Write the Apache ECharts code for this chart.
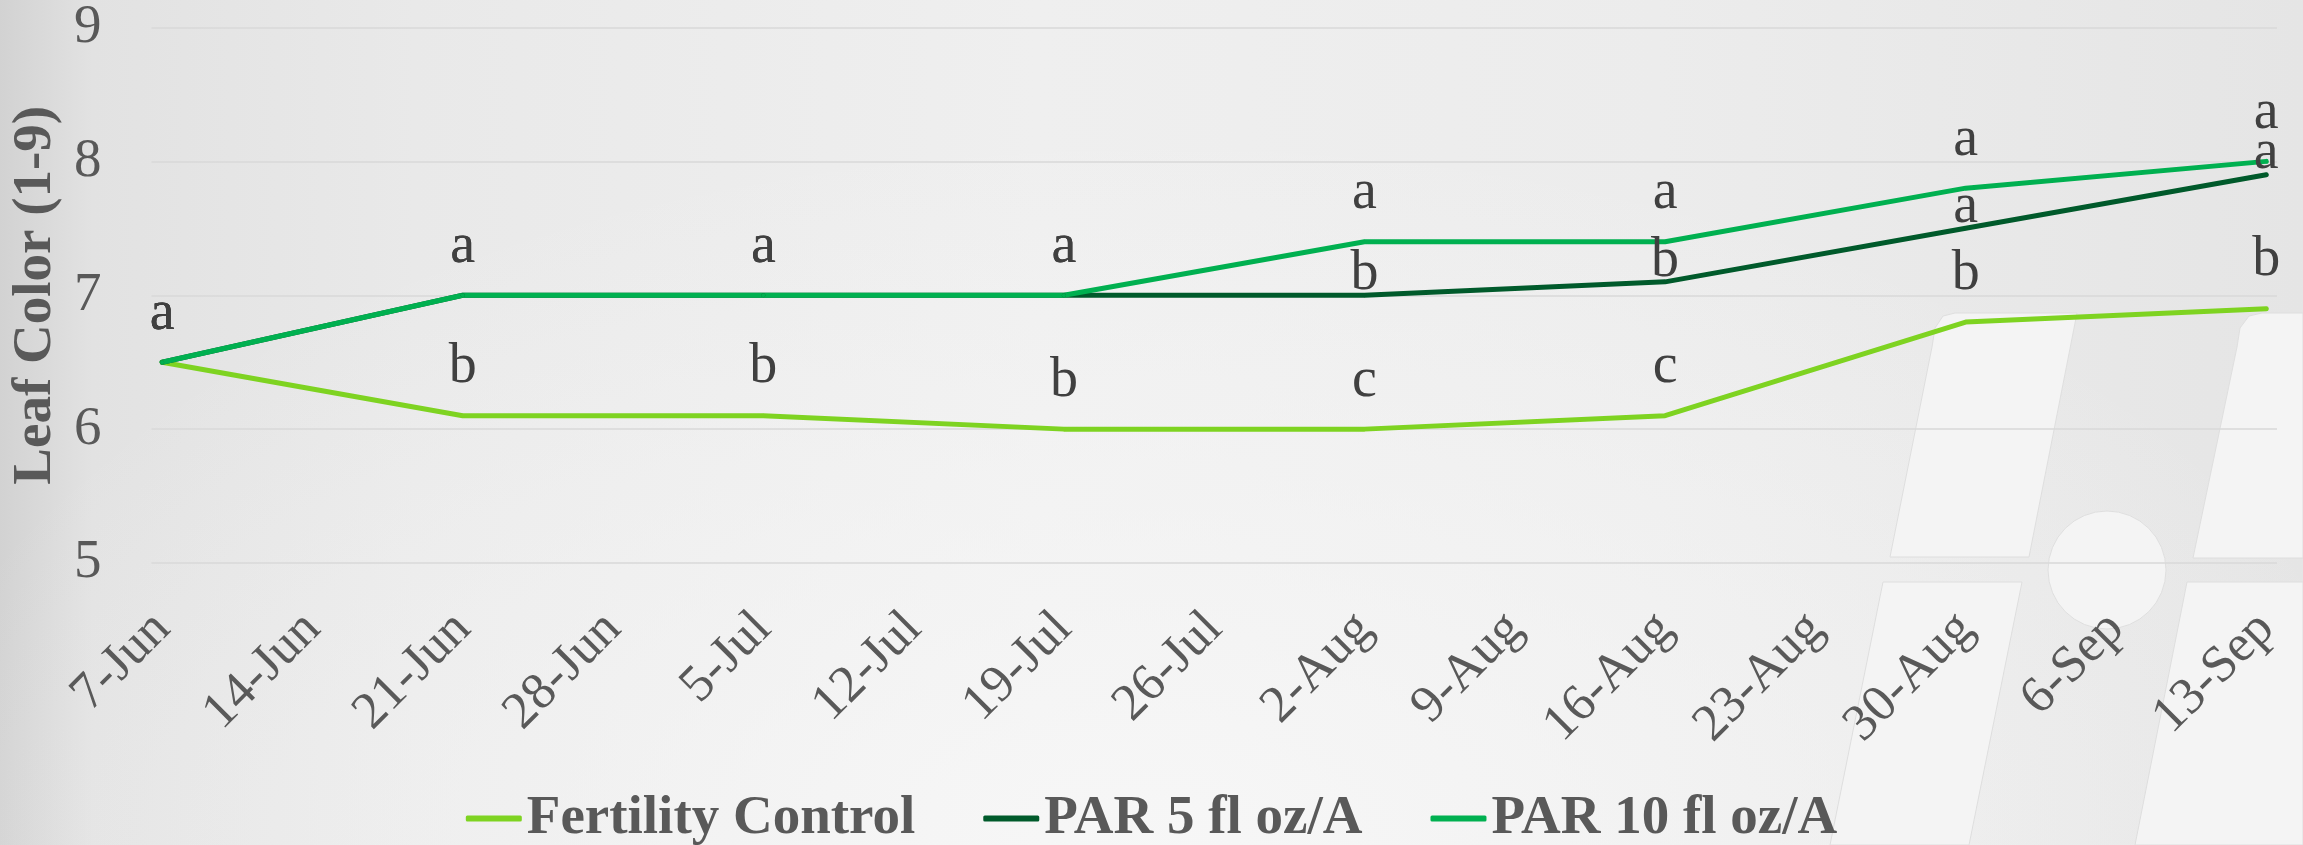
<!DOCTYPE html>
<html>
<head>
<meta charset="utf-8">
<script src="https://cdn.jsdelivr.net/npm/echarts@6/dist/echarts.min.js"></script>
<style>
  html, body { margin: 0; padding: 0; }
  #chart {
    width: 2303px; height: 845px;
    background:
      radial-gradient(ellipse 55% 85% at 50% 100%, rgba(247,247,247,0.95), rgba(247,247,247,0) 100%),
      linear-gradient(90deg, #d2d2d2 0%, #e2e2e2 4%, #e9e9e9 18%, #efefef 45%, #ececec 72%, #e5e5e5 100%);
  }
</style>
</head>
<body>
<div id="chart"></div>
<script>
// sampling dates and leaf colour ratings (1-9)
var sampleDates = ['2021-06-07', '2021-06-21', '2021-07-05', '2021-07-19', '2021-08-02', '2021-08-16', '2021-08-30', '2021-09-13'];
var fertility = [6.5, 6.1, 6.1, 6.0, 6.0, 6.1, 6.8, 6.9];
var par5 = [6.5, 7.0, 7.0, 7.0, 7.0, 7.1, 7.5, 7.9];
var par10 = [6.5, 7.0, 7.0, 7.0, 7.4, 7.4, 7.8, 8.0];

// mean separation letters
var fertilityLetters = ['a', 'b', 'b', 'b', 'c', 'c', 'b', 'b'];
var par5Letters = ['a', 'a', 'a', 'a', 'b', 'b', 'a', 'a'];
var par10Letters = ['a', 'a', 'a', 'a', 'a', 'a', 'a', 'a'];

var seriesNames = ['Fertility Control', 'PAR 5 fl oz/A', 'PAR 10 fl oz/A'];

// x axis tick labels (weekly)
var tickDates = ['2021-06-07', '2021-06-14', '2021-06-21', '2021-06-28', '2021-07-05', '2021-07-12', '2021-07-19',
  '2021-07-26', '2021-08-02', '2021-08-09', '2021-08-16', '2021-08-23', '2021-08-30', '2021-09-06', '2021-09-13'];

var months = ['Jan', 'Feb', 'Mar', 'Apr', 'May', 'Jun', 'Jul', 'Aug', 'Sep', 'Oct', 'Nov', 'Dec'];
var DAY = 86400000;
var serif = '"Liberation Serif", "DejaVu Serif", serif';
var textGrey = '#595959';

function toPoints(values) {
  return values.map(function (v, i) { return [Date.parse(sampleDates[i]), v]; });
}

// PAR 5 labels sit right on the line unless they coincide with PAR 10
var par5Data = toPoints(par5).map(function (p, i) {
  if (par5[i] === par10[i]) return { value: p };
  return { value: p, label: { offset: [0, 27] } };
});

function lineSeries(name, data, letters, color) {
  return {
    name: name,
    type: 'line',
    data: data,
    symbol: 'circle',
    symbolSize: 4,
    showSymbol: true,
    itemStyle: { color: color },
    lineStyle: { color: color, width: 5, cap: 'round', join: 'round' },
    label: {
      show: true,
      position: 'top',
      distance: 18,
      fontFamily: serif,
      fontSize: 56,
      color: '#404040',
      formatter: function (p) { return letters[p.dataIndex]; }
    },
    emphasis: { disabled: true }
  };
}

var chart = echarts.init(document.getElementById('chart'), null, { renderer: 'canvas' });

var wm = '#f4f4f4';
var wmEdge = '#dedede';

chart.setOption({
  animation: false,
  backgroundColor: 'transparent',
  graphic: [
    { type: 'polygon', z: -1, shape: { points: [[1932, 347], [1935, 328], [1943, 316], [1955, 313], [2077, 313], [2029, 557], [1890, 557]] }, style: { fill: wm, stroke: wmEdge, lineWidth: 1 } },
    { type: 'polygon', z: -1, shape: { points: [[1883, 582], [2022, 582], [1969, 845], [1830, 845]] }, style: { fill: wm, stroke: wmEdge, lineWidth: 1 } },
    { type: 'polygon', z: -1, shape: { points: [[2237, 347], [2240, 328], [2249, 316], [2262, 313], [2303, 313], [2303, 558], [2193, 558]] }, style: { fill: wm, stroke: wmEdge, lineWidth: 1 } },
    { type: 'polygon', z: -1, shape: { points: [[2187, 582], [2303, 582], [2303, 845], [2135, 845]] }, style: { fill: wm, stroke: wmEdge, lineWidth: 1 } },
    { type: 'circle', z: -1, shape: { cx: 2107, cy: 570, r: 59 }, style: { fill: wm, stroke: wmEdge, lineWidth: 1 } }
  ],
  grid: { left: 149, right: 26, top: 26, bottom: 282, containLabel: false },
  legend: {
    data: seriesNames,
    left: 'center',
    top: 786,
    icon: 'roundRect',
    itemWidth: 56,
    itemHeight: 6,
    itemGap: 68,
    textStyle: { fontFamily: serif, fontSize: 55, fontWeight: 'bold', color: textGrey }
  },
  xAxis: {
    type: 'value',
    min: Date.parse(sampleDates[0]) - DAY / 2,
    max: Date.parse(sampleDates[sampleDates.length - 1]) + DAY / 2,
    axisLine: { show: false },
    axisTick: { show: false },
    splitLine: { show: false },
    axisLabel: {
      customValues: tickDates.map(function (d) { return Date.parse(d); }),
      rotate: 45,
      margin: 58,
      fontFamily: serif,
      fontSize: 52,
      color: textGrey,
      formatter: function (v) {
        var d = new Date(v);
        return d.getUTCDate() + '-' + months[d.getUTCMonth()];
      }
    }
  },
  yAxis: {
    type: 'value',
    min: 5,
    max: 9,
    interval: 1,
    name: 'Leaf Color (1-9)',
    nameLocation: 'middle',
    nameGap: 88,
    nameTextStyle: { fontFamily: serif, fontSize: 55, fontWeight: 'bold', color: textGrey },
    axisLine: { show: false },
    axisTick: { show: false },
    splitLine: { lineStyle: { color: '#d9d9d9', width: 1.5 } },
    axisLabel: { margin: 50, fontFamily: serif, fontSize: 55, color: textGrey }
  },
  series: [
    lineSeries(seriesNames[0], toPoints(fertility), fertilityLetters, '#7ed321'),
    lineSeries(seriesNames[1], par5Data, par5Letters, '#005a2b'),
    lineSeries(seriesNames[2], toPoints(par10), par10Letters, '#00b050')
  ]
});
</script>
</body>
</html>
